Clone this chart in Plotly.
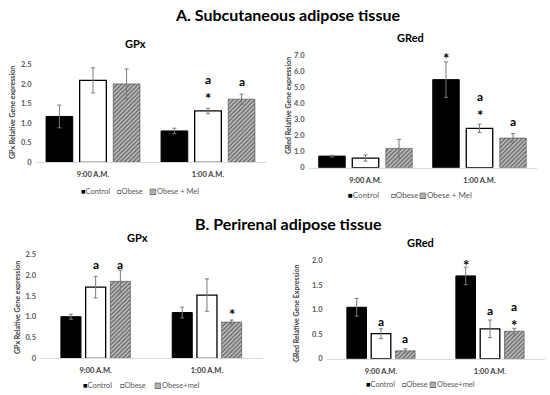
import plotly.graph_objects as go

# ---------------- data ----------------
categories = ["9:00 A.M.", "1:00 A.M."]
series_top = ["Control", "Obese", "Obese + Mel"]
series_bottom = ["Control", "Obese", "Obese+mel"]

# A. Subcutaneous - GPx
sc_gpx_control = [1.17, 0.80]
sc_gpx_obese = [2.09, 1.31]
sc_gpx_mel = [2.00, 1.61]
sc_gpx_control_err = [0.29, 0.07]
sc_gpx_obese_err = [0.32, 0.07]
sc_gpx_mel_err = [0.38, 0.13]

# A. Subcutaneous - GRed
sc_gred_control = [0.72, 5.47]
sc_gred_obese = [0.60, 2.44]
sc_gred_mel = [1.20, 1.84]
sc_gred_control_err = [0.05, 1.10]
sc_gred_obese_err = [0.19, 0.26]
sc_gred_mel_err = [0.56, 0.28]

# B. Perirenal - GPx
pr_gpx_control = [1.00, 1.10]
pr_gpx_obese = [1.71, 1.52]
pr_gpx_mel = [1.85, 0.87]
pr_gpx_control_err = [0.06, 0.13]
pr_gpx_obese_err = [0.26, 0.39]
pr_gpx_mel_err = [0.27, 0.05]

# B. Perirenal - GRed
pr_gred_control = [1.05, 1.69]
pr_gred_obese = [0.51, 0.61]
pr_gred_mel = [0.16, 0.56]
pr_gred_control_err = [0.18, 0.18]
pr_gred_obese_err = [0.10, 0.18]
pr_gred_mel_err = [0.04, 0.06]

gpx_ticks = [0, 0.5, 1.0, 1.5, 2.0, 2.5]
gpx_ticktext = ["0", "0.5", "1.0", "1.5", "2.0", "2.5"]
sc_gred_ticks = [0, 1, 2, 3, 4, 5, 6, 7]
sc_gred_ticktext = ["0", "1.0", "2.0", "3.0", "4.0", "5.0", "6.0", "7.0"]
pr_gred_ticks = [0, 0.5, 1.0, 1.5, 2.0]
pr_gred_ticktext = ["0", "0.5", "1.0", "1.5", "2.0"]

# significance marks: (panel, category index, series index, text)
sig_marks = [
    (1, 1, 1, "*"), (1, 1, 1, "a"), (1, 1, 2, "a"),
    (2, 1, 0, "*"), (2, 1, 1, "*"), (2, 1, 1, "a"), (2, 1, 2, "a"),
    (3, 0, 1, "a"), (3, 0, 2, "a"), (3, 1, 2, "*"),
    (4, 0, 1, "a"), (4, 0, 2, "a"), (4, 1, 0, "*"), (4, 1, 1, "a"),
    (4, 1, 2, "*"), (4, 1, 2, "a"),
]
# pixel gap above error bar for each mark (same order) - styling
sig_gaps = [14, 29, 13, 8, 13, 28, 12, 12, 6, 10, 7, 10, 6, 9, 7, 22]

# ---------------- layout geometry ----------------
W, H = 550, 395
FONT = "Lato"

panels = {
    1: dict(vals=[sc_gpx_control, sc_gpx_obese, sc_gpx_mel],
            errs=[sc_gpx_control_err, sc_gpx_obese_err, sc_gpx_mel_err],
            xpx=(35.5, 265.5), ypx=(162.3, 64.3), yr=(0, 2.5),
            ticks=gpx_ticks, ticktext=gpx_ticktext, bw=0.232, pitch=0.292),
    2: dict(vals=[sc_gred_control, sc_gred_obese, sc_gred_mel],
            errs=[sc_gred_control_err, sc_gred_obese_err, sc_gred_mel_err],
            xpx=(308.5, 536.5), ypx=(167.7, 55.0), yr=(0, 7),
            ticks=sc_gred_ticks, ticktext=sc_gred_ticktext, bw=0.232, pitch=0.294),
    3: dict(vals=[pr_gpx_control, pr_gpx_obese, pr_gpx_mel],
            errs=[pr_gpx_control_err, pr_gpx_obese_err, pr_gpx_mel_err],
            xpx=(40.0, 262.6), ypx=(358.3, 254.3), yr=(0, 2.5),
            ticks=gpx_ticks, ticktext=gpx_ticktext, bw=0.18, pitch=0.222),
    4: dict(vals=[pr_gred_control, pr_gred_obese, pr_gred_mel],
            errs=[pr_gred_control_err, pr_gred_obese_err, pr_gred_mel_err],
            xpx=(326.5, 544.5), ypx=(358.7, 260.7), yr=(0, 2.0),
            ticks=pr_gred_ticks, ticktext=pr_gred_ticktext, bw=0.18, pitch=0.223),
}

styles = [
    dict(color="black", line=dict(color="black", width=1)),
    dict(color="white", line=dict(color="black", width=1.3)),
    dict(color="#8a8a8a", line=dict(color="#444444", width=0.6),
         pattern=dict(shape="/", size=3, solidity=0.5, fgcolor="#111111", bgcolor="#c4c4c4")),
]

fig = go.Figure()

for p, cfg in panels.items():
    xa = "x" if p == 1 else f"x{p}"
    ya = "y" if p == 1 else f"y{p}"
    for i in range(3):
        fig.add_trace(go.Bar(
            x=categories, y=cfg["vals"][i],
            width=cfg["bw"], offset=(i - 1) * cfg["pitch"] - cfg["bw"] / 2,
            marker=styles[i],
            error_y=dict(type="data", array=cfg["errs"][i], color="#7a7a7a",
                         thickness=1, width=2),
            xaxis=xa, yaxis=ya, showlegend=False, hoverinfo="skip",
            name=(series_top if p <= 2 else series_bottom)[i],
        ))
    kx = "xaxis" if p == 1 else f"xaxis{p}"
    ky = "yaxis" if p == 1 else f"yaxis{p}"
    x0, x1 = cfg["xpx"]
    yb, yt = cfg["ypx"]
    fig.layout[kx] = dict(
        domain=[x0 / W, x1 / W], anchor=ya, range=[-0.5, 1.5],
        showline=True, linecolor="#d9d9d9", linewidth=1, automargin=False,
        ticks="", showgrid=False, zeroline=False, fixedrange=True,
        tickfont=dict(family=FONT, size=7.5, color="#404040", weight="bold"),
        ticklabelstandoff=5,
    )
    fig.layout[ky] = dict(
        domain=[1 - yb / H, 1 - yt / H], anchor=xa, range=list(cfg["yr"]),
        tickvals=cfg["ticks"], ticktext=cfg["ticktext"], automargin=False,
        showline=False, showgrid=False, zeroline=False, ticks="", fixedrange=True,
        tickfont=dict(family=FONT, size=7.5, color="#595959", weight="bold"),
        ticklabelstandoff=3,
    )

annotations = []

# significance marks
for (p, c, s, txt), gap in zip(sig_marks, sig_gaps):
    cfg = panels[p]
    xref = "x" if p == 1 else f"x{p}"
    yref = "y" if p == 1 else f"y{p}"
    px_per_cat = (cfg["xpx"][1] - cfg["xpx"][0]) / 2
    ytop = cfg["vals"][s][c] + cfg["errs"][s][c]
    annotations.append(dict(
        x=categories[c], y=ytop, xref=xref, yref=yref,
        xshift=(s - 1) * cfg["pitch"] * px_per_cat,
        yshift=gap + (-4 if txt == "*" else 0),
        text=txt, showarrow=False, yanchor="middle",
        font=dict(family=FONT, size=12 if txt == "a" else 15, color="black", weight="bold"),
    ))

def paper_text(x, y, text, size, bold=True, color="black", angle=0, xanchor="center"):
    return dict(x=x / W, y=1 - y / H, xref="paper", yref="paper", text=text,
                showarrow=False, xanchor=xanchor, yanchor="middle", textangle=angle,
                font=dict(family=FONT, size=size, color=color,
                          weight="bold" if bold else "normal"))

annotations += [
    paper_text(287, 15, "A. Subcutaneous adipose tissue", 16),
    paper_text(288, 223, "B. Perirenal adipose tissue", 16),
    paper_text(135, 43, "GPx", 11),
    paper_text(410, 37, "GRed", 11),
    paper_text(137, 237, "GPx", 11),
    paper_text(420, 243, "GRed", 11),
    paper_text(12, 113, "GPx Relative Gene expression", 7, color="#404040", angle=-90),
    paper_text(288, 106, "GRed Relative Gene expression", 7, color="#404040", angle=-90),
    paper_text(17, 308, "GPx Relative Gene expression", 7, color="#404040", angle=-90),
    paper_text(296, 313, "GRed Relative Gene Expression", 7, color="#404040", angle=-90),
]

# legend entries (icon + label) drawn as text items
icons = ["<span style='color:black'>■</span>",
         "<span style='color:black'>□</span>",
         "<span style='color:#444'>▨</span>"]
legend_rows = [
    (series_top, 192, [79, 115, 147], 7.5),
    (series_top, 195, [346, 389, 417], 8),
    (series_bottom, 385, [81, 118, 152], 7.5),
    (series_bottom, 384, [364, 400, 427], 7.5),
]
for names, ly, xs, fs in legend_rows:
    for icon, name, lx in zip(icons, names, xs):
        annotations.append(paper_text(lx, ly, icon + name, fs, bold=False,
                                      color="#595959", xanchor="left"))

fig.update_layout(
    width=W, height=H, barmode="overlay",
    margin=dict(l=0, r=0, t=0, b=0, pad=0, autoexpand=False),
    paper_bgcolor="white", plot_bgcolor="white",
    showlegend=False, annotations=annotations,
    font=dict(family=FONT), hovermode=False,
)

fig.write_html(
    "out.html",
    config={"displayModeBar": False, "staticPlot": True},
    post_script="document.body.style.margin='0px';document.body.style.overflow='hidden';",
)
